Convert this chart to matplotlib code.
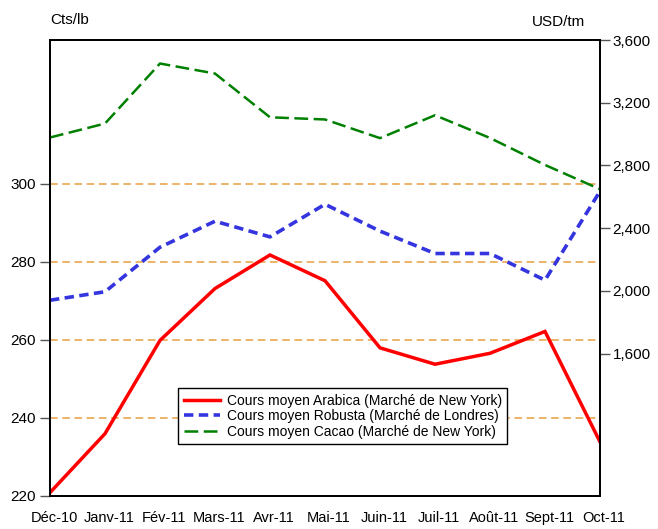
import matplotlib
matplotlib.use("Agg")
import matplotlib.pyplot as plt
import matplotlib.transforms as mtransforms

plt.rcParams['font.family'] = ['Liberation Sans', 'DejaVu Sans']

mois = ["Déc-10", "Janv-11", "Fév-11", "Mars-11", "Avr-11", "Mai-11",
        "Juin-11", "Juil-11", "Août-11", "Sept-11", "Oct-11"]
arabica = [220.8, 235.9, 259.8, 273.1, 281.7, 275.1, 257.9, 253.7, 256.5, 262.1, 233.8]
robusta = [1940, 1994, 2278, 2444, 2344, 2552, 2381, 2238, 2238, 2068, 2635]
cacao = [2978, 3067, 3450, 3386, 3107, 3093, 2974, 3120, 2975, 2803, 2648]

ticks_gauche = [220, 240, 260, 280, 300]
ticks_droite = [1600, 2000, 2400, 2800, 3200, 3600]

fig = plt.figure(figsize=(6.58, 5.29), dpi=100)
ax = fig.add_axes([50 / 658, 1 - 495.7 / 529, 550 / 658, 455.7 / 529])
ax2 = ax.twinx()

x = list(range(len(mois)))

# courbe Arabica (axe gauche)
l1, = ax.plot(x, arabica, color="#FF0000", lw=2.5, solid_joinstyle="miter",
              label="Cours moyen Arabica (Marché de New York)", zorder=3)
# Robusta et Cacao (axe droit)
l2, = ax2.plot(x, robusta, color="#3535E0", lw=2.6, dashes=(2.6, 1.5),
               label="Cours moyen Robusta (Marché de Londres)", zorder=3)
l3, = ax2.plot(x, cacao, color="#008000", lw=1.8, dashes=(5.5, 2.2),
               label="Cours moyen Cacao (Marché de New York)", zorder=3)

ax.set_xlim(0, len(mois) - 1)
ax.set_ylim(220, 336.8)
ax2.set_ylim(693, 3600)

ax.set_yticks(ticks_gauche)
ax.set_yticklabels([str(t) for t in ticks_gauche])
ax2.set_yticks(ticks_droite)
ax2.set_yticklabels([f"{t:,}" for t in ticks_droite])

ax.set_xticks(x)
ax.set_xticklabels(mois)
ax.tick_params(axis="x", length=0, pad=11, labelsize=10.5)
offset = mtransforms.ScaledTranslation(4 / 100, 0, fig.dpi_scale_trans)
for lab in ax.get_xticklabels():
    lab.set_transform(lab.get_transform() + offset)

ax.tick_params(axis="y", direction="out", length=7, width=1, color="#555555",
               pad=3, labelsize=11)
ax2.tick_params(axis="y", direction="out", length=7, width=1, color="#555555",
                pad=2, labelsize=11)

ax.grid(axis="y", color="#E5A040", linestyle=(0, (5, 3)), lw=1.1)
ax.set_axisbelow(True)

for a in (ax, ax2):
    for s in a.spines.values():
        s.set_color("black")
        s.set_linewidth(1.3)
        s.set_zorder(4)

fig.text(50 / 658, 1 - 20 / 529, "Cts/lb", fontsize=11, va="center", ha="left")
fig.text(585 / 658, 1 - 22 / 529, "USD/tm", fontsize=11, va="center", ha="right")

leg = ax2.legend(handles=[l1, l2, l3], loc="upper left",
                 bbox_to_anchor=((178 - 50) / 550, (495.7 - 388) / 455.7),
                 borderaxespad=0, fancybox=False, edgecolor="black",
                 framealpha=1, fontsize=10, handlelength=2.6,
                 labelspacing=0.12, borderpad=0.4, handletextpad=0.5)
leg.get_frame().set_linewidth(1.0)

fig.savefig("out.png", dpi=100)
